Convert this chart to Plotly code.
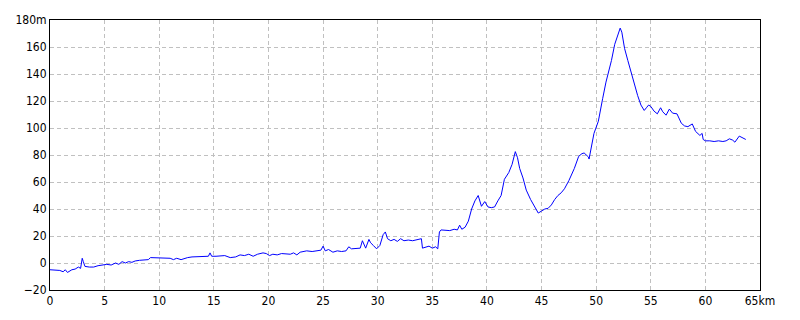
import plotly.graph_objects as go

# distance along route (km)
distance_km = [
    0, 0.5, 0.9, 1.2, 1.4, 1.6, 1.8, 2.0, 2.3, 2.6,
    2.8, 2.95, 3.05, 3.2, 3.6, 4.0, 4.4, 4.8, 5.2, 5.6,
    6.0, 6.3, 6.6, 6.9, 7.2, 7.5, 7.8, 8.2, 8.6, 9.0,
    9.2, 9.6, 10.0, 10.5, 11.0, 11.3, 11.6, 12.0, 12.3, 12.6,
    13.0, 13.5, 14.0, 14.5, 14.65, 14.8, 15.2, 15.6, 16.0, 16.5,
    17.0, 17.4, 17.8, 18.2, 18.6, 19.0, 19.5, 19.8, 20.1, 20.4,
    20.8, 21.2, 21.6, 22.0, 22.3, 22.6, 22.9, 23.2, 23.5, 24.0,
    24.4, 24.8, 25.0, 25.2, 25.5, 25.9, 26.3, 26.7, 27.1, 27.35,
    27.6, 28.0, 28.4, 28.6, 28.75, 28.9, 29.2, 29.35, 29.6, 29.9,
    30.2, 30.5, 30.7, 30.9, 31.2, 31.5, 31.8, 32.1, 32.4, 32.8,
    33.2, 33.6, 34.0, 34.1, 34.3, 34.7, 35.0, 35.3, 35.5, 35.65,
    35.8, 36.2, 36.6, 37.0, 37.3, 37.5, 37.7, 38.0, 38.3, 38.6,
    38.9, 39.2, 39.5, 39.8, 40.1, 40.4, 40.7, 41.0, 41.3, 41.6,
    42.0, 42.3, 42.6, 42.8, 43.0, 43.3, 43.6, 44.0, 44.4, 44.7,
    45.0, 45.3, 45.6, 45.9, 46.2, 46.5, 46.8, 47.1, 47.5, 48.0,
    48.4, 48.7, 48.9, 49.1, 49.3, 49.35, 49.6, 49.8, 50.2, 50.4,
    50.6, 50.9, 51.4, 51.7, 52.0, 52.2, 52.35, 52.6, 52.9, 53.2,
    53.5, 53.8, 54.1, 54.4, 54.6, 54.8, 55.0, 55.3, 55.6, 55.9,
    56.1, 56.4, 56.7, 57.0, 57.4, 57.8, 58.1, 58.4, 58.8, 59.1,
    59.5, 59.7, 59.8, 60.0, 60.4, 60.8, 61.2, 61.6, 61.9, 62.2,
    62.5, 62.7, 63.1, 63.4, 63.7,
]

# elevation (m)
elevation_m = [
    -5, -5, -5.5, -6.5, -5, -7, -6, -5, -4.5, -3,
    -4, 3.5, 1, -2.5, -3, -3, -2, -1.5, -1, -1.5,
    0, -1, 1, 0, 1, 0.5, 1.5, 2, 2, 2.5,
    4, 4, 4, 3.5, 3.5, 2.5, 3.5, 2.5, 3.5, 4,
    4.5, 4.5, 4.5, 5, 7.5, 5, 5, 5.5, 5.5, 4,
    4.5, 6, 5.5, 6.5, 5, 6.5, 7.5, 7, 5.5, 6.5,
    6, 7, 6.5, 6.5, 7.5, 6, 8, 8.5, 9, 8.5,
    9, 9.5, 12.5, 9, 10, 8, 9, 8.5, 9, 12,
    10.5, 10.5, 11, 16.5, 13, 11, 17.5, 15, 13, 10.5,
    13, 21, 23, 18, 16.5, 17.5, 16, 18, 16.5, 17,
    16.5, 17.5, 18, 11, 11.5, 12.5, 11, 12, 10.5, 23,
    24.5, 24.5, 24, 25, 24.5, 28, 25, 26.5, 31, 40,
    46, 50, 42, 45.5, 41.5, 41, 41.5, 46, 50, 62,
    67, 73, 82.5, 78, 70, 63, 54, 47, 41, 37,
    38.5, 40, 40.5, 43, 47, 50, 52, 55, 61, 70,
    79, 81, 81.5, 80, 78.5, 77, 88, 96, 105, 115,
    122, 134, 150, 162, 170, 174, 171, 159, 150, 141,
    134, 124, 117, 113, 115, 117, 116, 112.5, 110.5, 115,
    112, 109.5, 114, 111, 110.5, 103.5, 101.5, 101, 103, 97.5,
    94.5, 96, 91.5, 90.5, 90.5, 90, 90.5, 90, 90.5, 92,
    91, 89.5, 94, 92.5, 91.5,
]

x_tick_vals = [0, 5, 10, 15, 20, 25, 30, 35, 40, 45, 50, 55, 60, 65]
x_tick_text = ["0", "5", "10", "15", "20", "25", "30", "35", "40", "45", "50", "55", "60", "65km"]
y_tick_vals = [-20, 0, 20, 40, 60, 80, 100, 120, 140, 160, 180]
y_tick_text = ["\u221220", "0", "20", "40", "60", "80", "100", "120", "140", "160", "180m"]

fig = go.Figure()
fig.add_trace(go.Scatter(
    x=distance_km, y=elevation_m, mode="lines",
    line=dict(color="#0000ff", width=1),
    hoverinfo="skip",
))

font = dict(family="Liberation Sans Narrow, DejaVu Sans Condensed, sans-serif", size=12, color="#000000")

fig.update_layout(
    width=800, height=320,
    margin=dict(l=50, r=40, t=20, b=30),
    paper_bgcolor="#ffffff", plot_bgcolor="#ffffff",
    showlegend=False,
    font=font,
    xaxis=dict(
        range=[0, 65], tickvals=x_tick_vals, ticktext=x_tick_text,
        showgrid=True, gridcolor="#c0c0c0", gridwidth=1, griddash="4px,3px",
        zeroline=False, showline=True, linecolor="#000000", linewidth=1, mirror=True,
        ticks="", tickfont=font, fixedrange=True,
    ),
    yaxis=dict(
        range=[-20, 180], tickvals=y_tick_vals, ticktext=y_tick_text,
        showgrid=True, gridcolor="#c0c0c0", gridwidth=1, griddash="4px,3px",
        zeroline=False, showline=True, linecolor="#000000", linewidth=1, mirror=True,
        ticks="", tickfont=font, fixedrange=True,
    ),
)

fig.write_html("out.html")
